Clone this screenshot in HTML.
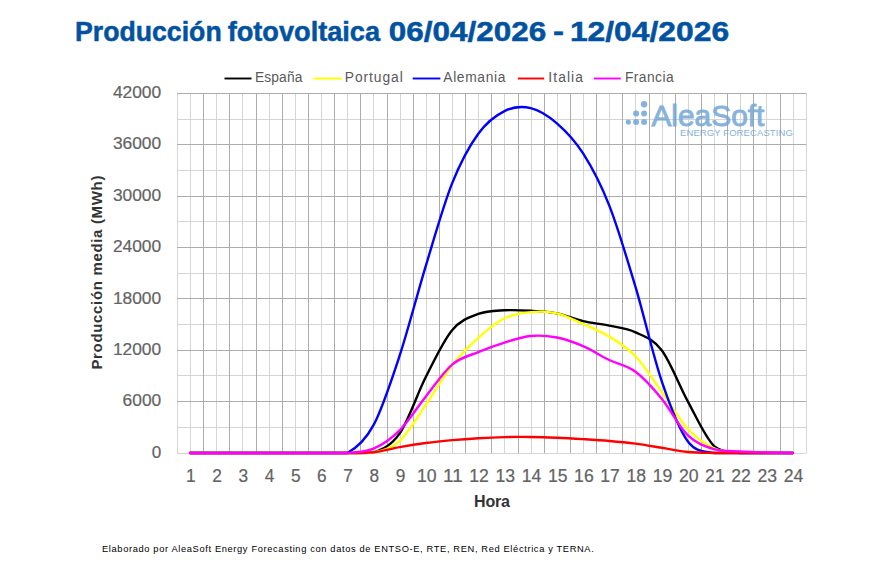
<!DOCTYPE html>
<html><head><meta charset="utf-8"><title>Producción fotovoltaica</title>
<style>
html,body{margin:0;padding:0;background:#fff;}
body{width:870px;height:580px;overflow:hidden;position:relative;}
svg{position:absolute;left:0;top:0;}
.gM{stroke:#acacac;stroke-width:1;}
.gm{stroke:#d5d5d5;stroke-width:1;}
.s{fill:none;stroke-width:2.4;stroke-linejoin:round;stroke-linecap:round;}
text{font-family:"Liberation Sans",Arial,sans-serif;}
.ttl{font-weight:bold;font-size:27px;fill:#0252a2;stroke:#0252a2;stroke-width:0.5px;}
.lg{font-size:13.8px;fill:#595959;}
.yl{font-size:16px;fill:#636363;stroke:#636363;stroke-width:0.2px;}
.xl{font-size:17.5px;fill:#636363;stroke:#636363;stroke-width:0.2px;}
.at{font-weight:bold;font-size:15px;fill:#333333;}
.ft{font-size:9.3px;fill:#000;}
.logo{fill:#72a6d8;}
</style></head><body>
<svg width="870" height="580" viewBox="0 0 870 580">
<rect x="0" y="0" width="870" height="580" fill="#fff"/>
<text y="40.5" class="ttl"><tspan x="75" textLength="146.7" lengthAdjust="spacingAndGlyphs">Producción</tspan> <tspan x="227.7" textLength="152.4" lengthAdjust="spacingAndGlyphs">fotovoltaica</tspan> <tspan x="388.8" textLength="157.5" lengthAdjust="spacingAndGlyphs">06/04/2026</tspan> <tspan x="552.9" textLength="11" lengthAdjust="spacingAndGlyphs">-</tspan> <tspan x="569.9" textLength="159.2" lengthAdjust="spacingAndGlyphs">12/04/2026</tspan></text>
<line x1="224.5" y1="78.5" x2="251.5" y2="78.5" stroke="#000000" stroke-width="1.9"/>
<text x="255.0" y="82" class="lg" textLength="47.4" lengthAdjust="spacing">España</text>
<line x1="313.5" y1="78.5" x2="342.0" y2="78.5" stroke="#ffff00" stroke-width="1.9"/>
<text x="344.8" y="82" class="lg" textLength="58.0" lengthAdjust="spacing">Portugal</text>
<line x1="412.7" y1="78.5" x2="440.4" y2="78.5" stroke="#0000ff" stroke-width="1.9"/>
<text x="443.3" y="82" class="lg" textLength="62.1" lengthAdjust="spacing">Alemania</text>
<line x1="517.9" y1="78.5" x2="544.2" y2="78.5" stroke="#ff0000" stroke-width="1.9"/>
<text x="548.3" y="82" class="lg" textLength="34.6" lengthAdjust="spacing">Italia</text>
<line x1="593.8" y1="78.5" x2="620.8" y2="78.5" stroke="#ff00ff" stroke-width="1.9"/>
<text x="624.9" y="82" class="lg" textLength="48.7" lengthAdjust="spacing">Francia</text>
<line x1="177.50" y1="93.00" x2="177.50" y2="453.00" class="gm"/>
<line x1="190.50" y1="93.00" x2="190.50" y2="453.00" class="gm"/>
<line x1="216.50" y1="93.00" x2="216.50" y2="453.00" class="gm"/>
<line x1="242.50" y1="93.00" x2="242.50" y2="453.00" class="gm"/>
<line x1="269.50" y1="93.00" x2="269.50" y2="453.00" class="gm"/>
<line x1="295.50" y1="93.00" x2="295.50" y2="453.00" class="gm"/>
<line x1="321.50" y1="93.00" x2="321.50" y2="453.00" class="gm"/>
<line x1="347.50" y1="93.00" x2="347.50" y2="453.00" class="gm"/>
<line x1="373.50" y1="93.00" x2="373.50" y2="453.00" class="gm"/>
<line x1="400.50" y1="93.00" x2="400.50" y2="453.00" class="gm"/>
<line x1="426.50" y1="93.00" x2="426.50" y2="453.00" class="gm"/>
<line x1="452.50" y1="93.00" x2="452.50" y2="453.00" class="gm"/>
<line x1="478.50" y1="93.00" x2="478.50" y2="453.00" class="gm"/>
<line x1="504.50" y1="93.00" x2="504.50" y2="453.00" class="gm"/>
<line x1="531.50" y1="93.00" x2="531.50" y2="453.00" class="gm"/>
<line x1="557.50" y1="93.00" x2="557.50" y2="453.00" class="gm"/>
<line x1="583.50" y1="93.00" x2="583.50" y2="453.00" class="gm"/>
<line x1="609.50" y1="93.00" x2="609.50" y2="453.00" class="gm"/>
<line x1="635.50" y1="93.00" x2="635.50" y2="453.00" class="gm"/>
<line x1="662.50" y1="93.00" x2="662.50" y2="453.00" class="gm"/>
<line x1="688.50" y1="93.00" x2="688.50" y2="453.00" class="gm"/>
<line x1="714.50" y1="93.00" x2="714.50" y2="453.00" class="gm"/>
<line x1="740.50" y1="93.00" x2="740.50" y2="453.00" class="gm"/>
<line x1="766.50" y1="93.00" x2="766.50" y2="453.00" class="gm"/>
<line x1="793.50" y1="93.00" x2="793.50" y2="453.00" class="gm"/>
<line x1="806.50" y1="93.00" x2="806.50" y2="453.00" class="gm"/>
<line x1="177.00" y1="453.50" x2="806.00" y2="453.50" class="gm"/>
<line x1="177.00" y1="427.50" x2="806.00" y2="427.50" class="gm"/>
<line x1="177.00" y1="375.50" x2="806.00" y2="375.50" class="gm"/>
<line x1="177.00" y1="324.50" x2="806.00" y2="324.50" class="gm"/>
<line x1="177.00" y1="273.50" x2="806.00" y2="273.50" class="gm"/>
<line x1="177.00" y1="221.50" x2="806.00" y2="221.50" class="gm"/>
<line x1="177.00" y1="170.50" x2="806.00" y2="170.50" class="gm"/>
<line x1="177.00" y1="119.50" x2="806.00" y2="119.50" class="gm"/>
<line x1="203.50" y1="93.00" x2="203.50" y2="453.00" class="gM"/>
<line x1="229.50" y1="93.00" x2="229.50" y2="453.00" class="gM"/>
<line x1="256.50" y1="93.00" x2="256.50" y2="453.00" class="gM"/>
<line x1="282.50" y1="93.00" x2="282.50" y2="453.00" class="gM"/>
<line x1="308.50" y1="93.00" x2="308.50" y2="453.00" class="gM"/>
<line x1="334.50" y1="93.00" x2="334.50" y2="453.00" class="gM"/>
<line x1="360.50" y1="93.00" x2="360.50" y2="453.00" class="gM"/>
<line x1="387.50" y1="93.00" x2="387.50" y2="453.00" class="gM"/>
<line x1="413.50" y1="93.00" x2="413.50" y2="453.00" class="gM"/>
<line x1="439.50" y1="93.00" x2="439.50" y2="453.00" class="gM"/>
<line x1="465.50" y1="93.00" x2="465.50" y2="453.00" class="gM"/>
<line x1="491.50" y1="93.00" x2="491.50" y2="453.00" class="gM"/>
<line x1="518.50" y1="93.00" x2="518.50" y2="453.00" class="gM"/>
<line x1="544.50" y1="93.00" x2="544.50" y2="453.00" class="gM"/>
<line x1="570.50" y1="93.00" x2="570.50" y2="453.00" class="gM"/>
<line x1="596.50" y1="93.00" x2="596.50" y2="453.00" class="gM"/>
<line x1="622.50" y1="93.00" x2="622.50" y2="453.00" class="gM"/>
<line x1="649.50" y1="93.00" x2="649.50" y2="453.00" class="gM"/>
<line x1="675.50" y1="93.00" x2="675.50" y2="453.00" class="gM"/>
<line x1="701.50" y1="93.00" x2="701.50" y2="453.00" class="gM"/>
<line x1="727.50" y1="93.00" x2="727.50" y2="453.00" class="gM"/>
<line x1="753.50" y1="93.00" x2="753.50" y2="453.00" class="gM"/>
<line x1="780.50" y1="93.00" x2="780.50" y2="453.00" class="gM"/>
<line x1="177.00" y1="401.50" x2="806.00" y2="401.50" class="gM"/>
<line x1="177.00" y1="350.50" x2="806.00" y2="350.50" class="gM"/>
<line x1="177.00" y1="298.50" x2="806.00" y2="298.50" class="gM"/>
<line x1="177.00" y1="247.50" x2="806.00" y2="247.50" class="gM"/>
<line x1="177.00" y1="196.50" x2="806.00" y2="196.50" class="gM"/>
<line x1="177.00" y1="144.50" x2="806.00" y2="144.50" class="gM"/>
<line x1="177.00" y1="93.50" x2="806.00" y2="93.50" class="gM"/>
<g opacity="0.85">
<circle cx="644.1" cy="104.2" r="3.2" class="logo"/>
<circle cx="636.1" cy="113.4" r="3.0" class="logo"/>
<circle cx="644.1" cy="113.4" r="3.0" class="logo"/>
<circle cx="628.3" cy="122.1" r="2.6" class="logo"/>
<circle cx="636.1" cy="122.1" r="3.0" class="logo"/>
<circle cx="644.1" cy="122.1" r="3.0" class="logo"/>
<text x="651.4" y="125.8" class="logo" style="font-weight:normal;font-size:29.5px;stroke:#72a6d8;stroke-width:0.9px" textLength="113" lengthAdjust="spacingAndGlyphs">AleaSoft</text>
<text x="680" y="136" class="logo" style="font-size:9.5px" textLength="112.8" lengthAdjust="spacing">ENERGY FORECASTING</text>
</g>
<path d="M190.10,453.00 C194.47,453.00 207.57,453.00 216.30,453.00 C225.03,453.00 233.77,453.00 242.50,453.00 C251.23,453.00 259.97,453.00 268.70,453.00 C277.43,453.00 286.17,453.00 294.90,453.00 C303.63,453.00 312.37,453.00 321.10,453.00 C329.83,453.00 338.57,453.00 347.30,453.00 C356.03,452.91 364.77,453.00 373.50,452.49 C382.23,449.21 390.97,445.92 399.70,433.31 C408.43,420.70 417.17,394.01 425.90,376.82 C434.63,359.63 443.37,340.64 452.10,330.17 C460.83,319.70 469.57,317.30 478.30,313.99 C487.03,310.68 495.77,310.85 504.50,310.31 C513.23,309.77 521.97,310.23 530.70,310.74 C539.43,311.25 548.17,311.65 556.90,313.39 C565.63,315.13 574.37,319.14 583.10,321.18 C591.83,323.22 600.57,323.78 609.30,325.63 C618.03,327.49 626.77,328.20 635.50,332.31 C644.23,336.42 652.97,338.73 661.70,350.29 C670.43,361.84 679.17,385.67 687.90,401.64 C696.63,417.62 705.37,437.59 714.10,446.15 C722.83,453.00 731.57,451.86 740.30,453.00 C749.03,453.00 757.77,453.00 766.50,453.00 C775.23,453.00 788.33,453.00 792.70,453.00" stroke="#000000" class="s"/>
<path d="M190.10,453.00 C194.47,453.00 207.57,453.00 216.30,453.00 C225.03,453.00 233.77,453.00 242.50,453.00 C251.23,453.00 259.97,453.00 268.70,453.00 C277.43,453.00 286.17,453.00 294.90,453.00 C303.63,453.00 312.37,453.00 321.10,453.00 C329.83,453.00 338.57,453.00 347.30,453.00 C356.03,452.93 364.77,453.00 373.50,452.57 C382.23,450.57 390.97,449.01 399.70,441.02 C408.43,433.03 417.17,417.28 425.90,404.64 C434.63,392.00 443.37,376.32 452.10,365.18 C460.83,354.04 469.57,345.61 478.30,337.79 C487.03,329.97 495.77,322.55 504.50,318.27 C513.23,313.99 521.97,312.92 530.70,312.11 C539.43,311.30 548.17,311.41 556.90,313.39 C565.63,315.38 574.37,320.14 583.10,324.01 C591.83,327.87 600.57,331.21 609.30,336.59 C618.03,341.97 626.77,347.08 635.50,356.28 C644.23,365.48 652.97,379.67 661.70,391.80 C670.43,403.93 679.17,419.59 687.90,429.03 C696.63,438.48 705.37,444.47 714.10,448.46 C722.83,452.46 731.57,452.24 740.30,453.00 C749.03,453.00 757.77,453.00 766.50,453.00 C775.23,453.00 788.33,453.00 792.70,453.00" stroke="#ffff00" class="s"/>
<path d="M190.10,453.00 C194.47,453.00 207.57,453.00 216.30,453.00 C225.03,453.00 233.77,453.00 242.50,453.00 C251.23,453.00 259.97,453.00 268.70,453.00 C277.43,453.00 286.17,453.00 294.90,453.00 C303.63,453.00 312.37,453.00 321.10,453.00 C329.83,453.00 338.57,453.00 347.30,453.00 C356.03,448.36 364.77,441.44 373.50,425.18 C382.23,408.92 390.97,382.03 399.70,355.42 C408.43,328.82 417.17,294.22 425.90,265.55 C434.63,236.87 443.37,205.34 452.10,183.38 C460.83,161.41 469.57,145.78 478.30,133.73 C487.03,121.68 495.77,115.33 504.50,111.05 C513.23,106.77 521.97,106.01 530.70,108.05 C539.43,110.09 548.17,115.73 556.90,123.29 C565.63,130.85 574.37,139.69 583.10,153.42 C591.83,167.14 600.57,183.38 609.30,205.63 C618.03,227.88 626.77,257.70 635.50,286.95 C644.23,316.19 652.97,355.34 661.70,381.10 C670.43,406.86 679.17,429.55 687.90,441.53 C696.63,453.00 705.37,451.09 714.10,453.00 C722.83,453.00 731.57,453.00 740.30,453.00 C749.03,453.00 757.77,453.00 766.50,453.00 C775.23,453.00 788.33,453.00 792.70,453.00" stroke="#0000ff" class="s"/>
<path d="M190.10,453.00 C194.47,453.00 207.57,453.00 216.30,453.00 C225.03,453.00 233.77,453.00 242.50,453.00 C251.23,453.00 259.97,453.00 268.70,453.00 C277.43,453.00 286.17,453.00 294.90,453.00 C303.63,453.00 312.37,453.00 321.10,453.00 C329.83,453.00 338.57,453.00 347.30,453.00 C356.03,452.89 364.77,453.00 373.50,452.32 C382.23,451.33 390.97,448.65 399.70,447.09 C408.43,445.54 417.17,444.14 425.90,442.99 C434.63,441.83 443.37,440.96 452.10,440.16 C460.83,439.36 469.57,438.71 478.30,438.19 C487.03,437.68 495.77,437.28 504.50,437.08 C513.23,436.88 521.97,436.88 530.70,436.99 C539.43,437.11 548.17,437.41 556.90,437.76 C565.63,438.12 574.37,438.61 583.10,439.13 C591.83,439.66 600.57,440.17 609.30,440.93 C618.03,441.69 626.77,442.53 635.50,443.67 C644.23,444.81 652.97,446.39 661.70,447.78 C670.43,449.16 679.17,451.10 687.90,451.97 C696.63,452.84 705.37,452.83 714.10,453.00 C722.83,453.00 731.57,453.00 740.30,453.00 C749.03,453.00 757.77,453.00 766.50,453.00 C775.23,453.00 788.33,453.00 792.70,453.00" stroke="#ff0000" class="s"/>
<path d="M190.10,453.00 C194.47,453.00 207.57,453.00 216.30,453.00 C225.03,453.00 233.77,453.00 242.50,453.00 C251.23,453.00 259.97,453.00 268.70,453.00 C277.43,453.00 286.17,453.00 294.90,453.00 C303.63,453.00 312.37,453.00 321.10,453.00 C329.83,453.00 338.57,453.00 347.30,453.00 C356.03,452.29 364.77,452.50 373.50,448.72 C382.23,444.94 390.97,439.03 399.70,430.32 C408.43,421.60 417.17,407.38 425.90,396.42 C434.63,385.47 443.37,371.97 452.10,364.58 C460.83,357.19 469.57,355.75 478.30,352.08 C487.03,348.42 495.77,345.26 504.50,342.58 C513.23,339.90 521.97,336.83 530.70,335.99 C539.43,335.15 548.17,335.83 556.90,337.53 C565.63,339.23 574.37,342.43 583.10,346.18 C591.83,349.93 600.57,355.79 609.30,360.04 C618.03,364.29 626.77,365.25 635.50,371.68 C644.23,378.12 652.97,388.02 661.70,398.65 C670.43,409.28 679.17,427.04 687.90,435.45 C696.63,443.87 705.37,446.48 714.10,449.15 C722.83,451.82 731.57,450.90 740.30,451.46 C749.03,452.02 757.77,452.23 766.50,452.49 C775.23,452.74 788.33,452.91 792.70,453.00" stroke="#ff00ff" class="s"/>
<text x="151.70" y="457.60" class="yl" textLength="9.5" lengthAdjust="spacingAndGlyphs">0</text>
<text x="122.60" y="406.24" class="yl" textLength="38.6" lengthAdjust="spacingAndGlyphs">6000</text>
<text x="112.90" y="354.89" class="yl" textLength="48.3" lengthAdjust="spacingAndGlyphs">12000</text>
<text x="112.90" y="303.53" class="yl" textLength="48.3" lengthAdjust="spacingAndGlyphs">18000</text>
<text x="112.90" y="252.17" class="yl" textLength="48.3" lengthAdjust="spacingAndGlyphs">24000</text>
<text x="112.90" y="200.81" class="yl" textLength="48.3" lengthAdjust="spacingAndGlyphs">30000</text>
<text x="112.90" y="149.46" class="yl" textLength="48.3" lengthAdjust="spacingAndGlyphs">36000</text>
<text x="112.90" y="98.10" class="yl" textLength="48.3" lengthAdjust="spacingAndGlyphs">42000</text>
<text x="186.10" y="482" class="xl" textLength="9.6" lengthAdjust="spacingAndGlyphs">1</text>
<text x="212.30" y="482" class="xl" textLength="9.6" lengthAdjust="spacingAndGlyphs">2</text>
<text x="238.50" y="482" class="xl" textLength="9.6" lengthAdjust="spacingAndGlyphs">3</text>
<text x="264.70" y="482" class="xl" textLength="9.6" lengthAdjust="spacingAndGlyphs">4</text>
<text x="290.90" y="482" class="xl" textLength="9.6" lengthAdjust="spacingAndGlyphs">5</text>
<text x="317.10" y="482" class="xl" textLength="9.6" lengthAdjust="spacingAndGlyphs">6</text>
<text x="343.30" y="482" class="xl" textLength="9.6" lengthAdjust="spacingAndGlyphs">7</text>
<text x="369.50" y="482" class="xl" textLength="9.6" lengthAdjust="spacingAndGlyphs">8</text>
<text x="395.70" y="482" class="xl" textLength="9.6" lengthAdjust="spacingAndGlyphs">9</text>
<text x="416.90" y="482" class="xl" textLength="19.6" lengthAdjust="spacingAndGlyphs">10</text>
<text x="443.10" y="482" class="xl" textLength="19.6" lengthAdjust="spacingAndGlyphs">11</text>
<text x="469.30" y="482" class="xl" textLength="19.6" lengthAdjust="spacingAndGlyphs">12</text>
<text x="495.50" y="482" class="xl" textLength="19.6" lengthAdjust="spacingAndGlyphs">13</text>
<text x="521.70" y="482" class="xl" textLength="19.6" lengthAdjust="spacingAndGlyphs">14</text>
<text x="547.90" y="482" class="xl" textLength="19.6" lengthAdjust="spacingAndGlyphs">15</text>
<text x="574.10" y="482" class="xl" textLength="19.6" lengthAdjust="spacingAndGlyphs">16</text>
<text x="600.30" y="482" class="xl" textLength="19.6" lengthAdjust="spacingAndGlyphs">17</text>
<text x="626.50" y="482" class="xl" textLength="19.6" lengthAdjust="spacingAndGlyphs">18</text>
<text x="652.70" y="482" class="xl" textLength="19.6" lengthAdjust="spacingAndGlyphs">19</text>
<text x="678.90" y="482" class="xl" textLength="19.6" lengthAdjust="spacingAndGlyphs">20</text>
<text x="705.10" y="482" class="xl" textLength="19.6" lengthAdjust="spacingAndGlyphs">21</text>
<text x="731.30" y="482" class="xl" textLength="19.6" lengthAdjust="spacingAndGlyphs">22</text>
<text x="757.50" y="482" class="xl" textLength="19.6" lengthAdjust="spacingAndGlyphs">23</text>
<text x="783.70" y="482" class="xl" textLength="19.6" lengthAdjust="spacingAndGlyphs">24</text>
<text x="474" y="507.4" class="at" style="font-size:16px" textLength="36" lengthAdjust="spacing">Hora</text>
<text transform="translate(102.2,369.6) rotate(-90)" x="0" y="0" class="at" textLength="194" lengthAdjust="spacing">Producción media (MWh)</text>
<text x="102" y="552" class="ft" textLength="491.8" lengthAdjust="spacing">Elaborado por AleaSoft Energy Forecasting con datos de ENTSO-E, RTE, REN, Red Eléctrica y TERNA.</text>
</svg>
</body></html>
